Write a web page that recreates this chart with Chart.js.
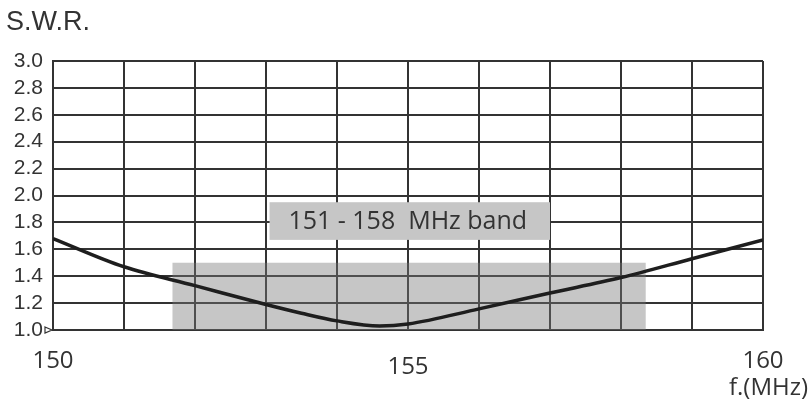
<!DOCTYPE html>
<html>
<head>
<meta charset="utf-8">
<script src="https://cdn.jsdelivr.net/npm/chart.js@4.4.1/dist/chart.umd.min.js"></script>
<style>
  html, body { margin: 0; padding: 0; background: #fff; }
  #wrap { width: 809px; height: 401px; }
</style>
</head>
<body>
<div id="wrap"><canvas id="swrChart" width="809" height="401"></canvas></div>
<script>
// values
const freqs = [150, 151, 152, 153, 153.5, 154, 154.6, 155, 156, 157, 158, 159, 160];
const swr   = [1.68, 1.47, 1.33, 1.19, 1.125, 1.068, 1.03, 1.045, 1.157, 1.275, 1.39, 1.53, 1.67];
const bandEdges = [151.68, 158.35];
const bandTop = 1.5;
const xLabels = ['150', '155', '160'];
const yTicks = [1.0, 1.2, 1.4, 1.6, 1.8, 2.0, 2.2, 2.4, 2.6, 2.8, 3.0];
const bandText = '151 - 158  MHz band';

const ink = '#333333';

// draws x labels, axis captions and the band label box
const extras = {
    id: 'extras',
    afterDatasetsDraw(chart) {
        const ctx = chart.ctx;
        const x = chart.scales.x;
        const y = chart.scales.y;
        ctx.save();

        // band caption box
        const bx1 = x.getPixelForValue(153.05), bx2 = x.getPixelForValue(157.0);
        const by1 = y.getPixelForValue(1.95), by2 = y.getPixelForValue(1.67);
        ctx.fillStyle = '#c6c6c6';
        ctx.fillRect(bx1, by1, bx2 - bx1, by2 - by1);
        ctx.fillStyle = ink;
        ctx.font = '25px "Open Sans"';
        ctx.textAlign = 'center';
        ctx.textBaseline = 'middle';
        ctx.fillText(bandText, (bx1 + bx2) / 2 - 2, (by1 + by2) / 2 + 1);

        // x labels (155 sits lower in the original)
        ctx.font = '24px "Open Sans"';
        const drops = [0, 6, 0];
        xLabels.forEach((t, i) => {
            ctx.fillText(t, x.getPixelForValue(Number(t)), y.bottom + 31 + drops[i]);
        });

        ctx.textAlign = 'right';
        ctx.fillText('f.(MHz)', 808, y.bottom + 58);

        ctx.textAlign = 'left';
        ctx.font = '27px "Liberation Sans"';
        ctx.fillText('S.W.R.', 6, 23);

        // small marker at 1.0
        const ty = y.getPixelForValue(1.0);
        ctx.strokeStyle = ink;
        ctx.lineWidth = 1.2;
        ctx.beginPath();
        ctx.moveTo(x.left - 8, ty - 3);
        ctx.lineTo(x.left - 1, ty);
        ctx.lineTo(x.left - 8, ty + 3);
        ctx.closePath();
        ctx.stroke();
        ctx.restore();
    }
};

new Chart(document.getElementById('swrChart').getContext('2d'), {
    type: 'line',
    data: {
        datasets: [
            {
                data: bandEdges.map(f => ({ x: f, y: bandTop })),
                borderWidth: 0,
                pointRadius: 0,
                fill: 'start',
                backgroundColor: 'rgba(120,120,120,0.42)',
                order: 2
            },
            {
                data: freqs.map((f, i) => ({ x: f, y: swr[i] })),
                borderColor: '#1e1e1e',
                borderWidth: 3.5,
                pointRadius: 0,
                fill: false,
                cubicInterpolationMode: 'monotone',
                order: 1
            }
        ]
    },
    options: {
        responsive: false,
        animation: false,
        devicePixelRatio: 1,
        layout: { padding: { left: 0, top: 61, right: 46, bottom: 71 } },
        plugins: { legend: { display: false }, tooltip: { enabled: false } },
        scales: {
            x: {
                type: 'linear',
                min: 150,
                max: 160,
                ticks: { display: false, stepSize: 1 },
                grid: { color: ink, lineWidth: 2, drawTicks: false },
                border: { color: ink, width: 2 }
            },
            y: {
                min: 1.0,
                max: 3.0,
                afterFit(scale) { scale.width = 53; },
                afterBuildTicks(scale) { scale.ticks = yTicks.map(v => ({ value: v })); },
                ticks: {
                    color: ink,
                    font: { family: 'Liberation Sans', size: 21 },
                    padding: 10,
                    autoSkip: false,
                    callback: v => v.toFixed(1)
                },
                grid: { color: ink, lineWidth: 2, drawTicks: false },
                border: { color: ink, width: 2 }
            }
        }
    },
    plugins: [extras]
});
</script>
</body>
</html>
